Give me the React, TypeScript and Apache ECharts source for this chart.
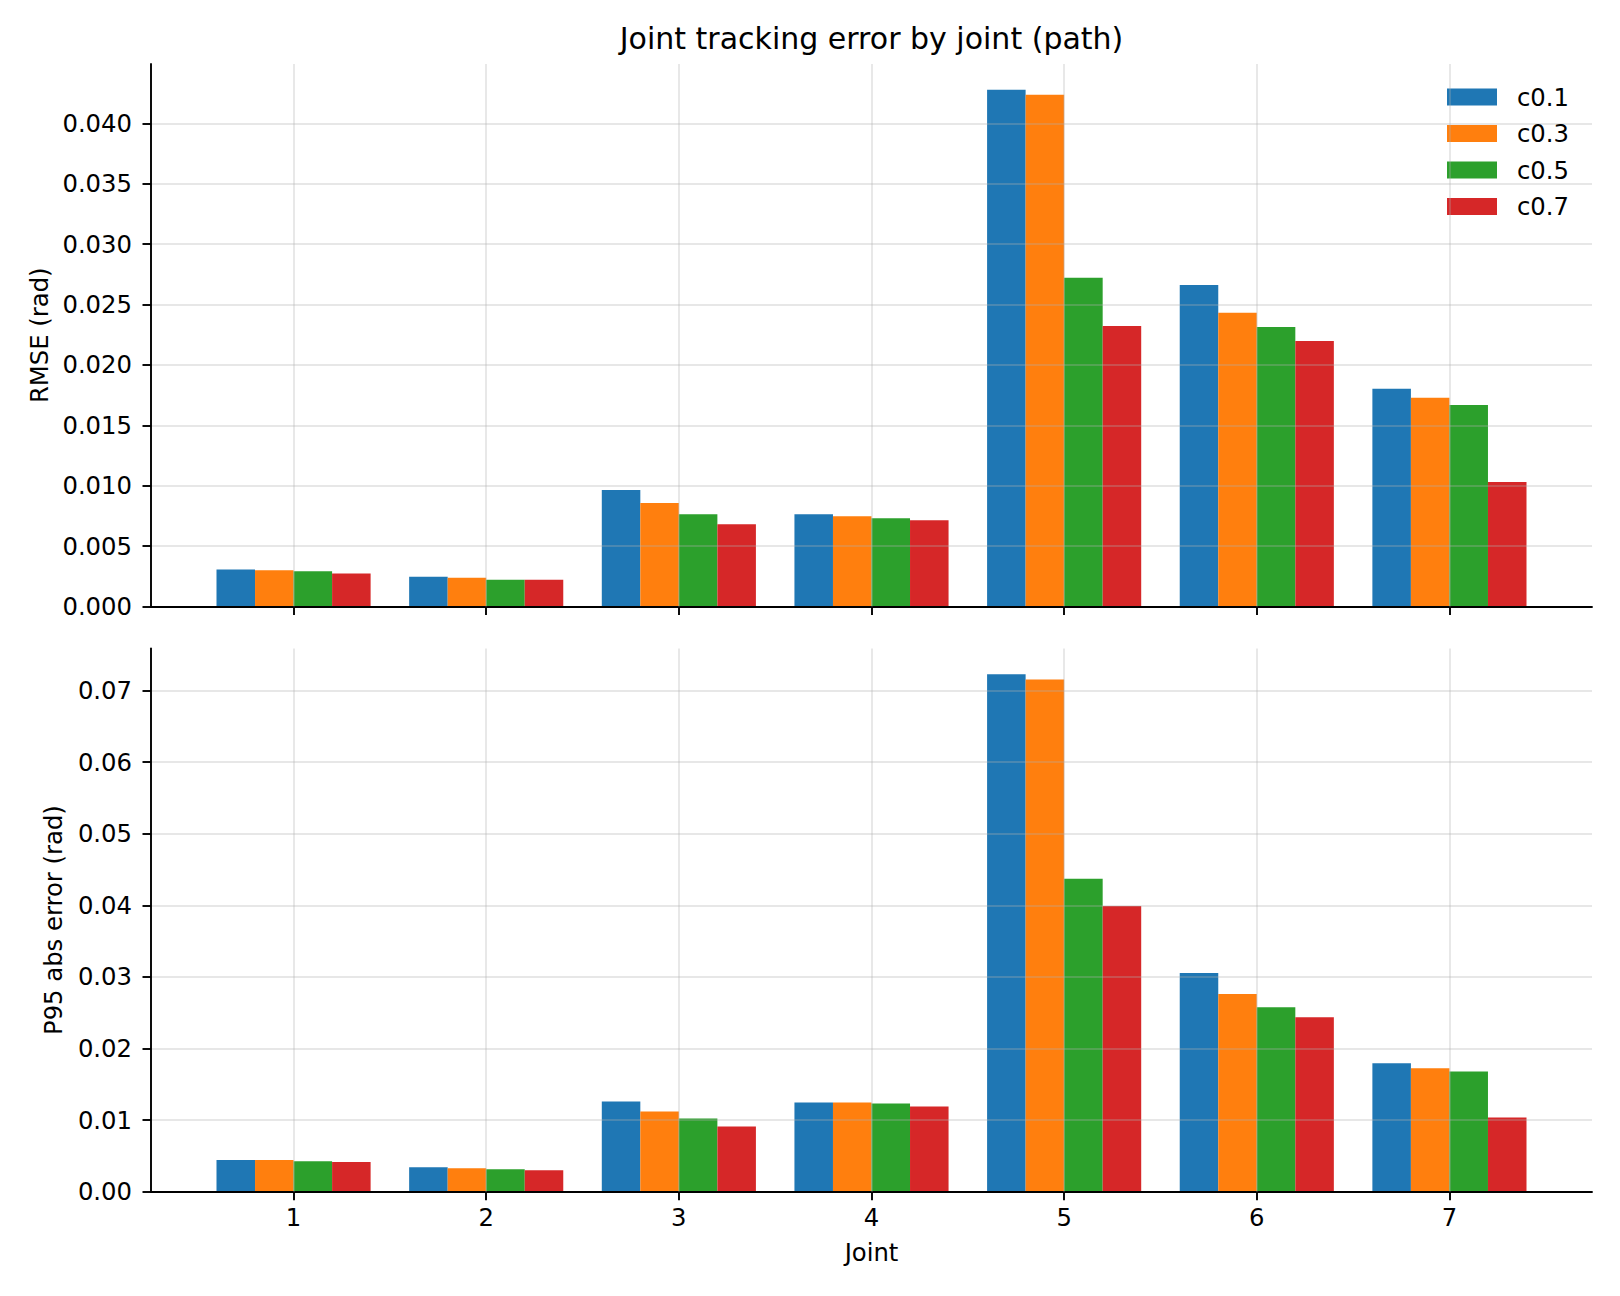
import React, { useEffect, useRef } from "react";
import * as echarts from "echarts";

// Joint indices along the x axis
const joints = ["1", "2", "3", "4", "5", "6", "7"];

// Controller gain settings (one series each)
const gainNames = ["c0.1", "c0.3", "c0.5", "c0.7"];
const gainColors = ["#1f77b4", "#ff7f0e", "#2ca02c", "#d62728"];

// RMSE per joint (rad)
const rmseC01 = [0.00307, 0.00247, 0.00964, 0.00764, 0.04278, 0.02663, 0.01802];
const rmseC03 = [0.00301, 0.00239, 0.00856, 0.00747, 0.04237, 0.02432, 0.01728];
const rmseC05 = [0.00292, 0.00222, 0.00764, 0.00731, 0.02722, 0.02314, 0.01669];
const rmseC07 = [0.00274, 0.00222, 0.00681, 0.00714, 0.02322, 0.02198, 0.0103];

// 95th percentile absolute error per joint (rad)
const p95C01 = [0.00442, 0.0034, 0.0126, 0.01247, 0.07225, 0.03055, 0.01795];
const p95C03 = [0.00442, 0.00326, 0.01121, 0.01247, 0.07155, 0.0276, 0.01725];
const p95C05 = [0.00426, 0.00312, 0.01023, 0.01233, 0.0437, 0.02575, 0.0168];
const p95C07 = [0.00416, 0.00298, 0.00912, 0.01191, 0.0399, 0.02435, 0.01035];

// y tick positions
const rmseTicks = [0, 0.005, 0.01, 0.015, 0.02, 0.025, 0.03, 0.035, 0.04];
const p95Ticks = [0, 0.01, 0.02, 0.03, 0.04, 0.05, 0.06, 0.07];

const rmseSets = [rmseC01, rmseC03, rmseC05, rmseC07];
const p95Sets = [p95C01, p95C03, p95C05, p95C07];

const FONT = "DejaVu Sans";
const GRID_COLOR = "rgba(176,176,176,0.3)";
const FS = 24.3;
const LW = 1.9;
const TICK_LEN = 8.5;

// Plot-area geometry
const FRAME_LEFT = 151;
const FRAME_WIDTH = 1441;
const UNIT = FRAME_WIDTH / 7.48;
const BAR_LEFT = FRAME_LEFT + 0.24 * UNIT;
const BAR_WIDTH = 7 * UNIT;
const TOP_Y = 64;
const TOP_H = 542.5;
const BOT_Y = 648.5;
const BOT_H = 543.2;

const maxOf = (sets: number[][]) => Math.max(...sets.map((s) => Math.max(...s))) * 1.05;

function frameXAxis(gridIndex: number) {
  return {
    gridIndex,
    type: "value",
    min: 0,
    max: 1,
    z: 4,
    axisLine: { show: true, onZero: false, lineStyle: { color: "#000", width: LW } },
    axisTick: { show: false },
    axisLabel: { show: false },
    splitLine: { show: false },
  };
}

function barXAxis(gridIndex: number, showLabels: boolean) {
  return {
    gridIndex,
    type: "category",
    data: joints,
    axisLine: { show: false },
    axisTick: {
      show: true,
      alignWithLabel: true,
      interval: 0,
      length: TICK_LEN,
      lineStyle: { color: "#000", width: LW },
    },
    axisLabel: {
      show: showLabels,
      interval: 0,
      color: "#000",
      fontSize: FS,
      fontFamily: FONT,
      margin: 14,
    },
    splitLine: { show: false },
    ...(showLabels
      ? {
          name: "Joint",
          nameLocation: "middle",
          nameGap: 49,
          nameTextStyle: { color: "#000", fontSize: FS, fontFamily: FONT },
        }
      : {}),
  };
}

function frameYAxis(
  gridIndex: number,
  max: number,
  interval: number,
  ticks: number[],
  digits: number,
  name: string,
  nameGap: number
) {
  return {
    gridIndex,
    type: "value",
    min: 0,
    max,
    interval,
    z: 4,
    name,
    nameLocation: "middle",
    nameRotate: 90,
    nameGap,
    nameTextStyle: { color: "#000", fontSize: FS, fontFamily: FONT },
    axisLine: { show: true, lineStyle: { color: "#000", width: LW } },
    axisTick: {
      show: true,
      length: TICK_LEN,
      customValues: ticks,
      lineStyle: { color: "#000", width: LW },
    },
    axisLabel: {
      customValues: ticks,
      color: "#000",
      fontSize: FS,
      fontFamily: FONT,
      margin: 19,
      formatter: (v: number) => v.toFixed(digits),
    },
    splitLine: {
      show: true,
      lineStyle: { color: GRID_COLOR, width: LW },
    },
  };
}

function barSeries(sets: number[][], axisIndex: number) {
  return sets.map((values, i) => ({
    name: gainNames[i],
    type: "bar",
    xAxisIndex: axisIndex,
    yAxisIndex: axisIndex,
    data: values,
    barGap: "0%",
    barCategoryGap: "20%",
    itemStyle: { color: gainColors[i] },
  }));
}

// Vertical grid lines at each joint, drawn above the bars
function jointGridLines(axisIndex: number) {
  return {
    type: "line",
    xAxisIndex: axisIndex,
    yAxisIndex: axisIndex,
    data: [],
    silent: true,
    markLine: {
      silent: true,
      symbol: ["none", "none"],
      label: { show: false },
      lineStyle: { color: GRID_COLOR, width: LW, type: "solid" },
      data: joints.map((j) => ({ xAxis: j })),
    },
  };
}

export default function App() {
  const ref = useRef<HTMLDivElement>(null);

  useEffect(() => {
    document.body.style.margin = "0";
    if (!ref.current) return;
    const chart = echarts.init(ref.current, undefined, { renderer: "svg" });
    const rmseMax = maxOf(rmseSets);
    const p95Max = maxOf(p95Sets);

    chart.setOption({
      animation: false,
      backgroundColor: "#fff",
      textStyle: { fontFamily: FONT },
      graphic: [
        {
          type: "text",
          x: FRAME_LEFT + FRAME_WIDTH / 2,
          y: 38,
          style: {
            text: "Joint tracking error by joint (path)",
            fontSize: 30,
            fontFamily: FONT,
            fill: "#000",
            align: "center",
            verticalAlign: "middle",
          },
        },
      ],
      legend: {
        data: gainNames,
        orient: "vertical",
        left: 1442,
        top: 80,
        itemWidth: 50,
        itemHeight: 17,
        itemGap: 12.5,
        icon: "rect",
        selectedMode: false,
        textStyle: {
          color: "#000",
          fontSize: FS,
          fontFamily: FONT,
          padding: [0, 0, 0, 15],
        },
      },
      grid: [
        { left: FRAME_LEFT, top: TOP_Y, width: FRAME_WIDTH, height: TOP_H },
        { left: BAR_LEFT, top: TOP_Y, width: BAR_WIDTH, height: TOP_H },
        { left: FRAME_LEFT, top: BOT_Y, width: FRAME_WIDTH, height: BOT_H },
        { left: BAR_LEFT, top: BOT_Y, width: BAR_WIDTH, height: BOT_H },
      ],
      xAxis: [frameXAxis(0), barXAxis(1, false), frameXAxis(2), barXAxis(3, true)],
      yAxis: [
        frameYAxis(0, rmseMax, 0.005, rmseTicks, 3, "RMSE (rad)", 100),
        { gridIndex: 1, type: "value", min: 0, max: rmseMax, show: false },
        frameYAxis(2, p95Max, 0.01, p95Ticks, 2, "P95 abs error (rad)", 86),
        { gridIndex: 3, type: "value", min: 0, max: p95Max, show: false },
      ],
      series: [
        ...barSeries(rmseSets, 1),
        jointGridLines(1),
        ...barSeries(p95Sets, 3),
        jointGridLines(3),
      ],
    });

    return () => chart.dispose();
  }, []);

  return <div ref={ref} style={{ width: 1620, height: 1296 }} />;
}
